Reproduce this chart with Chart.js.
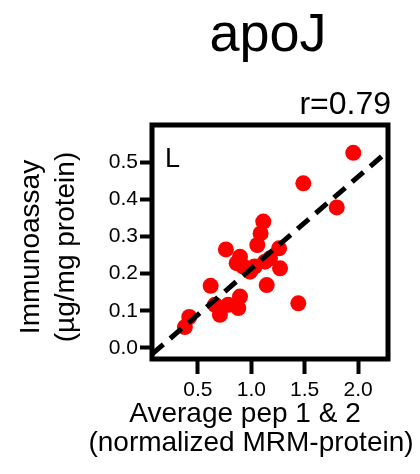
<!DOCTYPE html>
<html>
<head>
<meta charset="utf-8">
<script src="https://cdn.jsdelivr.net/npm/chart.js@4/dist/chart.umd.min.js"></script>
<style>
  body { margin: 0; background: #fff; }
  canvas { display: block; }
</style>
</head>
<body>
<canvas id="apoJChart" width="420" height="474"></canvas>
<script>
// values
var pepAverage = [1.955, 1.487, 1.80, 1.112, 1.087, 1.056, 0.762, 1.26, 0.894, 0.863,
  0.925, 1.03, 1.128, 1.175, 1.269, 1.144, 0.619, 1.44, 0.894, 0.878,
  0.784, 0.66, 0.706, 0.419, 0.378, 0.988];
var immunoassay = [0.525, 0.443, 0.378, 0.34, 0.308, 0.277, 0.265, 0.268, 0.245, 0.228,
  0.219, 0.219, 0.232, 0.241, 0.214, 0.169, 0.167, 0.12, 0.138, 0.107,
  0.116, 0.116, 0.089, 0.083, 0.056, 0.205];
var fitX = [0.07, 2.28];
var fitY = [-0.017, 0.53];
var xTicks = [0.5, 1.0, 1.5, 2.0];
var yTicks = [0.0, 0.1, 0.2, 0.3, 0.4, 0.5];

var FONT = '"Liberation Sans", Arial, sans-serif';

function toPoints(xs, ys) {
  return xs.map(function (x, i) {
    return { x: x, y: ys[i] };
  });
}

var textPlugin = {
  id: "apoJText",
  afterDraw: function (chart) {
    var ctx = chart.ctx;
    var area = chart.chartArea;
    ctx.save();
    // box round the plot
    ctx.strokeStyle = "#000";
    ctx.lineWidth = 5;
    ctx.strokeRect(area.left, area.top, area.right - area.left, area.bottom - area.top);

    ctx.fillStyle = "#000";
    ctx.textBaseline = "alphabetic";
    ctx.textAlign = "center";
    ctx.font = "54px " + FONT;
    ctx.fillText("apoJ", 268, 51);

    ctx.textAlign = "right";
    ctx.font = "32px " + FONT;
    ctx.fillText("r=0.79", 391, 114);

    ctx.textAlign = "left";
    ctx.font = "27px " + FONT;
    ctx.fillText("L", 165, 167);

    // x axis title
    ctx.textAlign = "center";
    ctx.font = "28px " + FONT;
    ctx.fillText("Average pep 1 & 2", 245, 422);
    ctx.fillText("(normalized MRM-protein)", 251, 451);

    // y axis title
    ctx.translate(0, 247);
    ctx.rotate(-Math.PI / 2);
    ctx.textBaseline = "middle";
    ctx.fillText("Immunoassay", 0, 31);
    ctx.fillText("(\u00b5g/mg protein)", 0, 66);
    ctx.restore();
  },
};

var canvas = document.getElementById("apoJChart");
var ctx = canvas.getContext("2d");
var apoJChart = new Chart(ctx, {
  type: "scatter",
  data: {
    datasets: [
      {
        type: "line",
        data: toPoints(fitX, fitY),
        borderColor: "#000",
        borderWidth: 5,
        borderDash: [15, 9],
        pointRadius: 0,
        fill: false,
        order: 0,
      },
      {
        data: toPoints(pepAverage, immunoassay),
        backgroundColor: "#f00",
        borderColor: "#f00",
        borderWidth: 0,
        pointRadius: 8,
        order: 1,
      },
    ],
  },
  options: {
    responsive: false,
    animation: false,
    layout: {
      padding: { top: 125, right: 32, bottom: 0, left: 0 },
    },
    plugins: {
      legend: { display: false },
      tooltip: { enabled: false },
    },
    scales: {
      x: {
        type: "linear",
        min: 0.07,
        max: 2.28,
        afterFit: function (scale) {
          scale.height = 115;
        },
        afterBuildTicks: function (scale) {
          scale.ticks = xTicks.map(function (v) { return { value: v }; });
        },
        border: { display: false },
        grid: {
          drawOnChartArea: false,
          drawTicks: true,
          tickLength: 15,
          tickWidth: 4,
          tickColor: "#000",
        },
        ticks: {
          color: "#000",
          padding: 4,
          font: { family: FONT, size: 21 },
          maxRotation: 0,
          callback: function (v) { return v.toFixed(1); },
        },
      },
      y: {
        type: "linear",
        min: -0.03,
        max: 0.6,
        afterFit: function (scale) {
          scale.width = 152;
        },
        afterBuildTicks: function (scale) {
          scale.ticks = yTicks.map(function (v) { return { value: v }; });
        },
        border: { display: false },
        grid: {
          drawOnChartArea: false,
          drawTicks: true,
          tickLength: 12,
          tickWidth: 4,
          tickColor: "#000",
        },
        ticks: {
          color: "#000",
          padding: 2,
          font: { family: FONT, size: 21 },
          callback: function (v) { return v.toFixed(1); },
        },
      },
    },
  },
  plugins: [textPlugin],
});
</script>
</body>
</html>
